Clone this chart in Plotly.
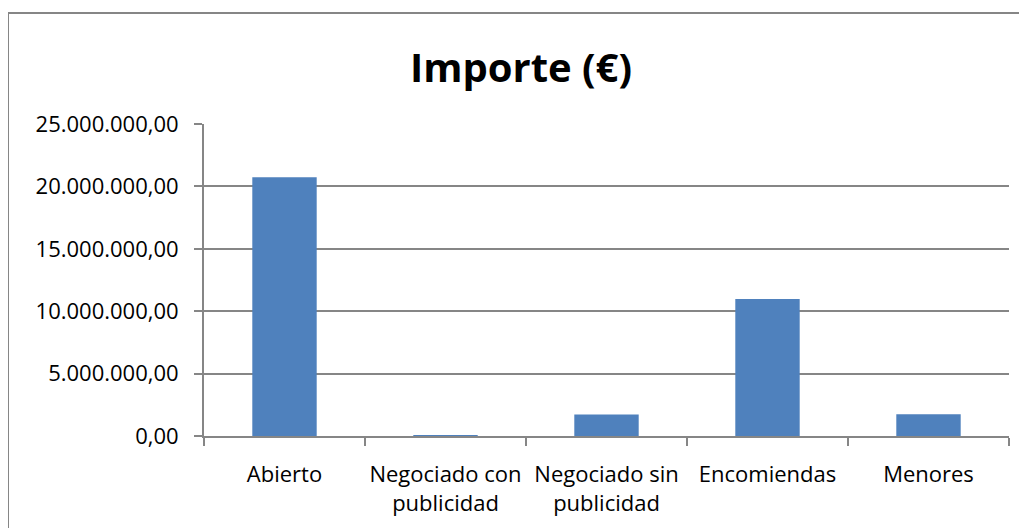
import plotly.graph_objects as go

categories = ["Abierto", "Negociado con<br>publicidad", "Negociado sin<br>publicidad", "Encomiendas", "Menores"]
importe = [20730000, 70000, 1720000, 10980000, 1740000]
y_ticks = [0, 5000000, 10000000, 15000000, 20000000, 25000000]

FONT = "Open Sans"
GRAY = "#868686"

fig = go.Figure(go.Bar(
    x=categories, y=importe,
    marker=dict(color="#4F81BD", line=dict(width=0)),
))

fig.update_layout(
    width=1027, height=528,
    margin=dict(l=196, r=26, t=116, b=100, autoexpand=False),
    paper_bgcolor="white", plot_bgcolor="white",
    separators=",.",
    bargap=0.6,
    showlegend=False,
    title=dict(text="<b>Importe (€)</b>", x=0.4995, xanchor="center", y=0.886, yanchor="middle",
               font=dict(family=FONT, size=40, color="black")),
    font=dict(family=FONT, size=22, color="black"),
    shapes=[dict(type="rect", xref="paper", yref="paper",
                 x0=(0 - 196) / 805, x1=1.1, y0=-0.6, y1=(428 - 5) / 312,
                 line=dict(color=GRAY, width=2), fillcolor="rgba(0,0,0,0)", layer="below")],
)
fig.update_xaxes(
    showline=True, linecolor=GRAY, linewidth=2,
    ticks="outside", tickson="boundaries", ticklen=8, tickcolor=GRAY, tickwidth=2,
    ticklabelstandoff=18, tickangle=0, automargin=False,
    showgrid=False, tickfont=dict(family=FONT, size=22, color="black"),
)
fig.update_yaxes(
    range=[0, 25000000], tickvals=y_ticks, tickformat=",.2f",
    showline=True, linecolor=GRAY, linewidth=2,
    ticks="outside", ticklen=8, tickcolor=GRAY, tickwidth=2,
    ticklabelstandoff=11, automargin=False,
    showgrid=True, gridcolor=GRAY, gridwidth=2, zeroline=False,
    tickfont=dict(family=FONT, size=22, color="black"),
)

fig.write_html("out.html")
